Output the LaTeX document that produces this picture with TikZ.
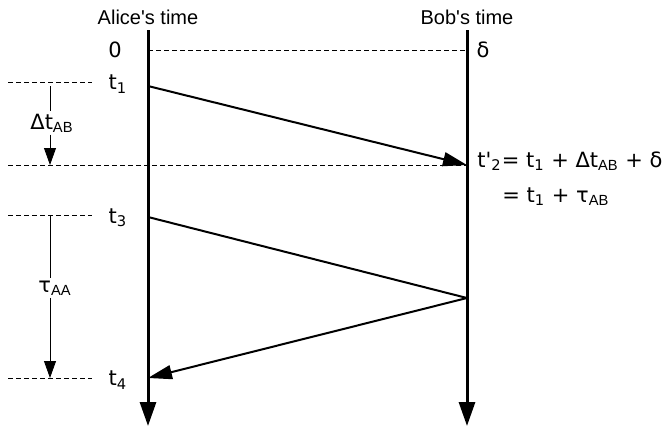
\documentclass[tikz,border=0pt]{standalone}
\usepackage{fontspec}
\setmainfont{DejaVu Sans}
\newfontfamily\titlefont{Liberation Sans}
\usetikzlibrary{arrows.meta}
\newcommand\lo[1]{\textsubscript{#1}}
\newcommand\loab[1]{\textsubscript{\titlefont #1}}
\begin{document}
\begin{tikzpicture}[x=0.5pt,y=-0.5pt,font=\fontsize{10.5}{12}\selectfont,
    timeline/.style={line width=1.5pt,-{Triangle[width=8pt,length=12pt]}},
    msg/.style={line width=1pt},
    guide/.style={line width=0.4pt,dash pattern=on 2.5pt off 1.5pt},
    span/.style={line width=0.4pt},
    lbl/.style={inner sep=1pt}]
  \useasboundingbox (0,0) rectangle (663,428);
  % the two time lines
  \coordinate (A0) at (148,30); \coordinate (AE) at (148,426);
  \coordinate (B0) at (467,30); \coordinate (BE) at (467,426);
  \draw[timeline] (A0)--(AE); \draw[timeline] (B0)--(BE);
  \node[font=\titlefont\fontsize{10}{12}\selectfont] (alice) at (148,17) {Alice\textquotesingle s time};
  \node[font=\titlefont\fontsize{10}{12}\selectfont] (bob) at (467,17) {Bob\textquotesingle s time};
  % events
  \coordinate (Z) at (148,50); \coordinate (D) at (467,50);
  \coordinate (T1) at (148,86); \coordinate (T2) at (467,165);
  \coordinate (T3) at (148,217); \coordinate (R) at (467,298);
  \coordinate (T4) at (148,378);
  \draw[guide] (Z)--(D);
  \draw[msg,-{Triangle[width=7pt,length=12pt]}] (T1)--(T2);
  \draw[msg] (T3)--(R);
  \draw[msg,-{Triangle[width=7pt,length=12pt]}] (R)--(T4);
  % dashed guides on the left
  \coordinate (g1) at (8,82); \coordinate (g1e) at (92,82);
  \coordinate (g2) at (8,165);
  \coordinate (g3) at (8,215); \coordinate (g3e) at (92,215);
  \coordinate (g4) at (8,378); \coordinate (g4e) at (92,378);
  \draw[guide] (g1)--(g1e); \draw[guide] (g2)--(T2);
  \draw[guide] (g3)--(g3e); \draw[guide] (g4)--(g4e);
  % intervals
  \coordinate (s1) at (50,86); \coordinate (s1e) at (50,165);
  \coordinate (s2) at (50,215); \coordinate (s2e) at (50,378);
  \node[lbl] (dtab) at (52,123) {Δt\loab{AB}};
  \node[lbl] (taa) at (55,288) {τ\loab{AA}};
  \draw[span] (s1)--(s1 |- dtab.north);
  \draw[span,-{Triangle[width=6pt,length=8.5pt]}] (s1e |- dtab.south)--(s1e);
  \draw[span] (s2)--(s2 |- taa.north);
  \draw[span,-{Triangle[width=6pt,length=8.5pt]}] (s2e |- taa.south)--(s2e);
  % labels
  \node (l0) at (115,50) {0}; \node (ld) at (483,50) {δ};
  \node (l1) at (118,84) {t\lo{1}}; \node (l3) at (118,218) {t\lo{3}};
  \node (l4) at (118,380) {t\lo{4}};
  \node[anchor=base west,inner sep=0pt] (eq1) at (477,167) {t\textquotesingle\lo{2}= t\lo{1} + Δt\loab{AB} + δ};
  \node[anchor=base west,inner sep=0pt] (eq2) at (502,202) {= t\lo{1} + τ\loab{AB}};
\end{tikzpicture}
\end{document}
